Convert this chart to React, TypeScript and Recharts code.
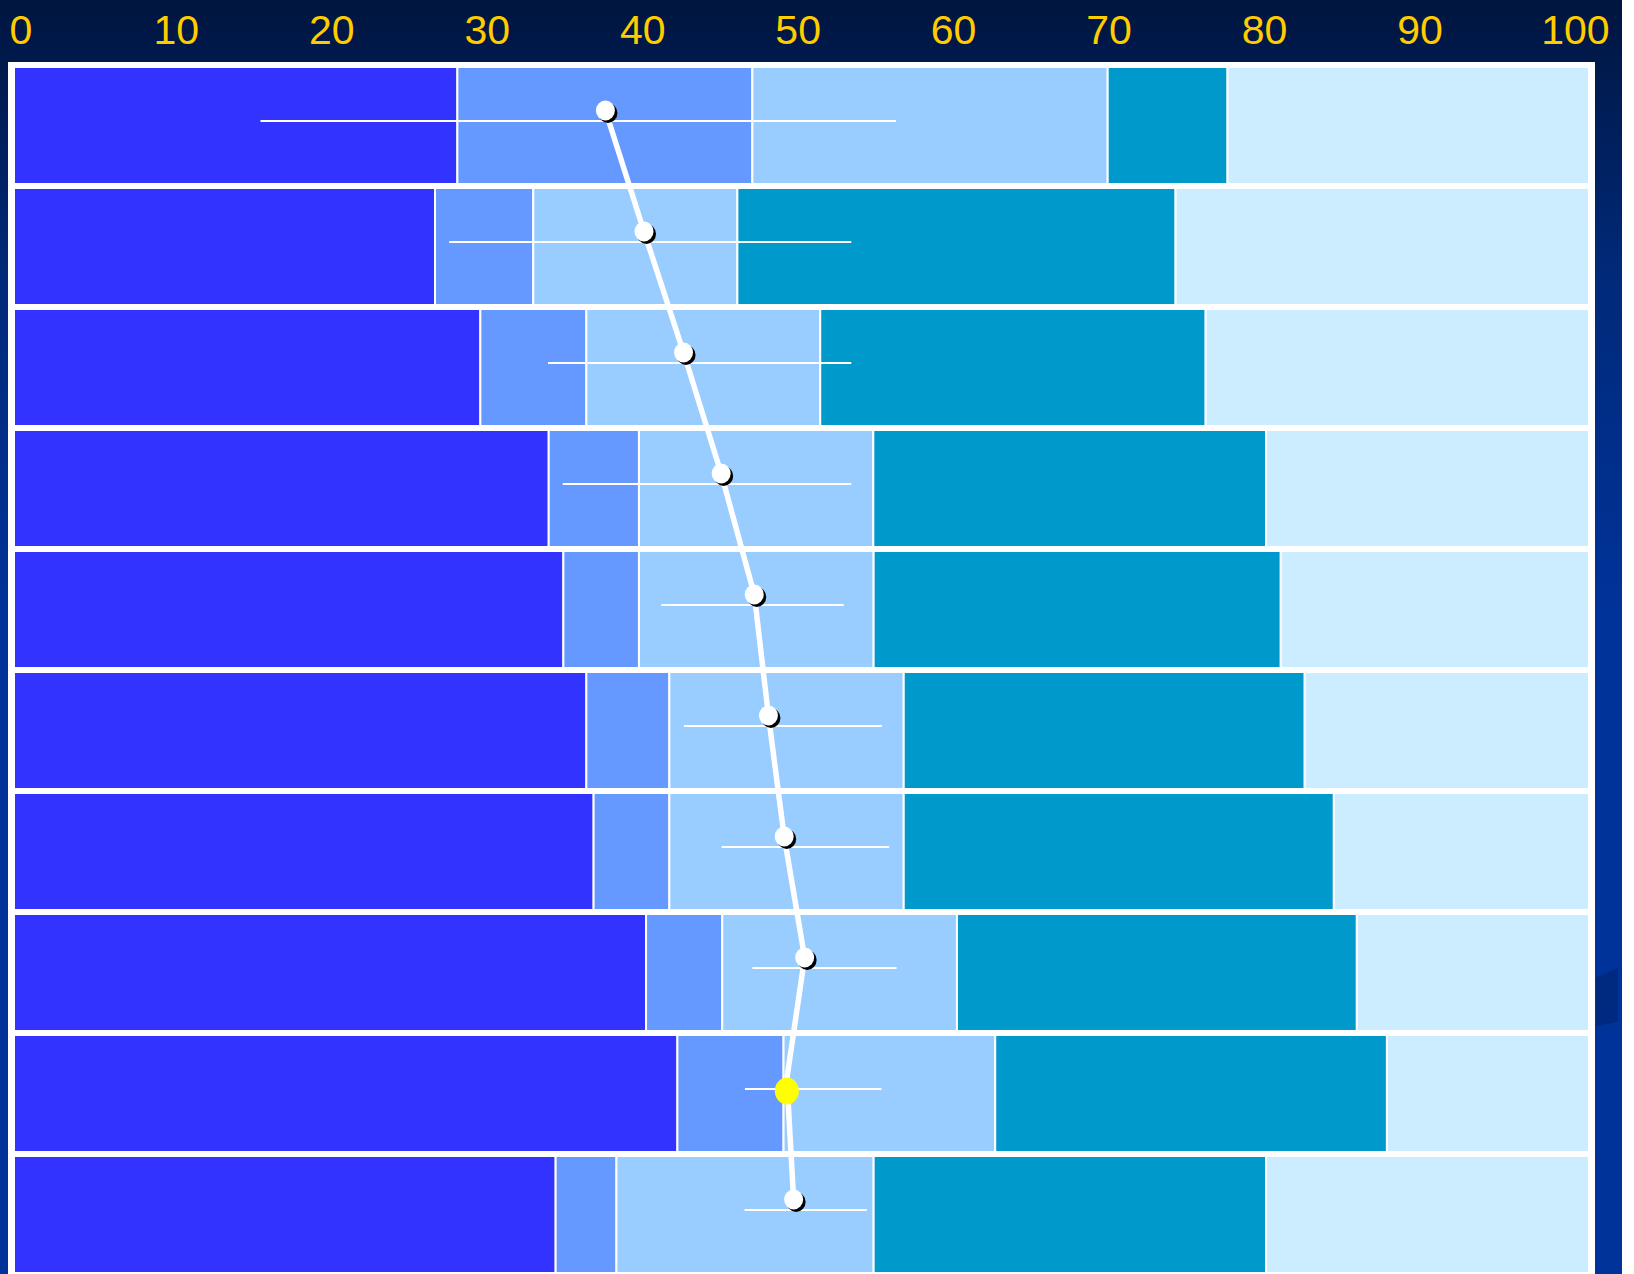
import { ComposedChart, Bar, Line, XAxis, YAxis, CartesianGrid, ErrorBar } from 'recharts';

const ROWS = ['1', '2', '3', '4', '5', '6', '7', '8', '9', '10'];

// stacked segments, each row adds up to 100
const SEG_1 = [28.15, 26.73, 29.61, 33.95, 34.88, 36.34, 36.8, 40.13, 42.12, 34.39];
const SEG_2 = [18.73, 6.24, 6.73, 5.73, 4.8, 5.27, 4.81, 4.84, 6.74, 3.86];
const SEG_3 = [22.56, 12.96, 14.85, 14.88, 14.9, 14.88, 14.88, 14.9, 13.44, 16.33];
const SEG_4 = [7.61, 27.82, 24.47, 24.94, 25.85, 25.46, 27.31, 25.39, 24.87, 24.92];
const SEG_5 = [22.95, 26.25, 24.34, 20.5, 19.57, 18.05, 16.2, 14.74, 12.83, 20.5];

// line points and their intervals
const POINT = [37.55, 40.0, 42.51, 44.9, 47.0, 47.9, 48.9, 50.2, 49.07, 49.5];
const CI_LOW = [15.65, 27.63, 33.91, 34.84, 41.1, 42.54, 44.93, 46.88, 46.41, 46.38];
const CI_HIGH = [56.0, 53.16, 53.16, 53.16, 52.68, 55.11, 55.57, 56.04, 55.08, 54.15];
const HIGHLIGHT_ROW = '9';

const TICKS = [0, 10, 20, 30, 40, 50, 60, 70, 80, 90, 100];

const SEG_COLORS = ['#3333FF', '#6699FF', '#99CCFF', '#0099CC', '#CCECFF'];

const data = ROWS.map((row, i) => ({
  row,
  s1: SEG_1[i],
  s2: SEG_2[i],
  s3: SEG_3[i],
  s4: SEG_4[i],
  s5: SEG_5[i],
  pt: POINT[i],
  err: [POINT[i] - CI_LOW[i], CI_HIGH[i] - POINT[i]],
}));

const renderDot = (p: any) => {
  const { cx, cy, payload, index } = p;
  if (payload.row === HIGHLIGHT_ROW) {
    return <ellipse key={`d${index}`} cx={cx} cy={cy + 12.5} rx={12} ry={13.5} fill="#FFFF00" />;
  }
  return (
    <g key={`d${index}`}>
      <ellipse cx={cx + 2.5} cy={cy + 2.5} rx={9.5} ry={10} fill="#000" />
      <ellipse cx={cx} cy={cy} rx={9.5} ry={10} fill="#fff" />
    </g>
  );
};

export default function App() {
  return (
    <div style={{ position: 'relative', width: 1634, height: 1274, overflow: 'hidden', background: '#fff' }}>
      <style>{`body{margin:0}`}</style>
      <div
        style={{
          position: 'absolute', left: 0, top: 0, width: 1622, height: 1274,
          background: 'linear-gradient(180deg, #00153f 0%, #001d55 8%, #002a7a 22%, #003399 48%, #003399 100%)',
        }}
      />
      <div
        style={{
          position: 'absolute', left: 1596, top: 966, width: 22, height: 62, background: '#002a80',
          clipPath: 'polygon(0% 19%, 100% 3%, 100% 90%, 0% 97%)',
        }}
      />
      <div style={{ position: 'absolute', left: 0, top: 0 }}>
        <ComposedChart
          width={1622}
          height={1275}
          data={data}
          layout="vertical"
          margin={{ top: 0, right: 27, bottom: 0, left: 8 }}
          barCategoryGap={2}
        >
          <CartesianGrid xAxisId="bar" yAxisId="bar" fill="#fff" horizontal={false} vertical={false} />
          <XAxis xAxisId="bar" type="number" domain={[0, 100]} hide padding={{ left: 6, right: 6 }} />
          <XAxis
            xAxisId="top"
            orientation="top"
            type="number"
            domain={[-0.44, 100.87]}
            allowDataOverflow
            ticks={TICKS}
            interval={0}
            padding={{ left: 6, right: 6 }}
            height={62}
            axisLine={false}
            tickLine={false}
            tickSize={0}
            tickMargin={18}
            tick={{ fill: '#FFCC00', fontSize: 41, fontFamily: '"Liberation Sans", Arial, sans-serif' }}
          />
          <YAxis yAxisId="bar" type="category" dataKey="row" hide padding={{ top: 3, bottom: 0 }} />
          <YAxis yAxisId="pts" type="category" dataKey="row" hide padding={{ top: -12, bottom: 15 }} />
          <YAxis yAxisId="err" type="category" dataKey="row" hide padding={{ top: -1.5, bottom: 4.5 }} />
          {['s1', 's2', 's3', 's4', 's5'].map((k, i) => (
            <Bar
              key={k}
              xAxisId="bar"
              yAxisId="bar"
              dataKey={k}
              stackId="a"
              fill={SEG_COLORS[i]}
              stroke="#fff"
              strokeWidth={2}
              isAnimationActive={false}
            />
          ))}
          <Line
            xAxisId="bar"
            yAxisId="err"
            dataKey="pt"
            stroke="none"
            dot={false}
            activeDot={false}
            isAnimationActive={false}
          >
            <ErrorBar dataKey="err" direction="x" width={0} stroke="#fff" strokeWidth={2} isAnimationActive={false} />
          </Line>
          <Line
            xAxisId="bar"
            yAxisId="pts"
            dataKey="pt"
            type="linear"
            stroke="#fff"
            strokeWidth={5.5}
            dot={renderDot}
            activeDot={false}
            isAnimationActive={false}
          />
        </ComposedChart>
      </div>
    </div>
  );
}
